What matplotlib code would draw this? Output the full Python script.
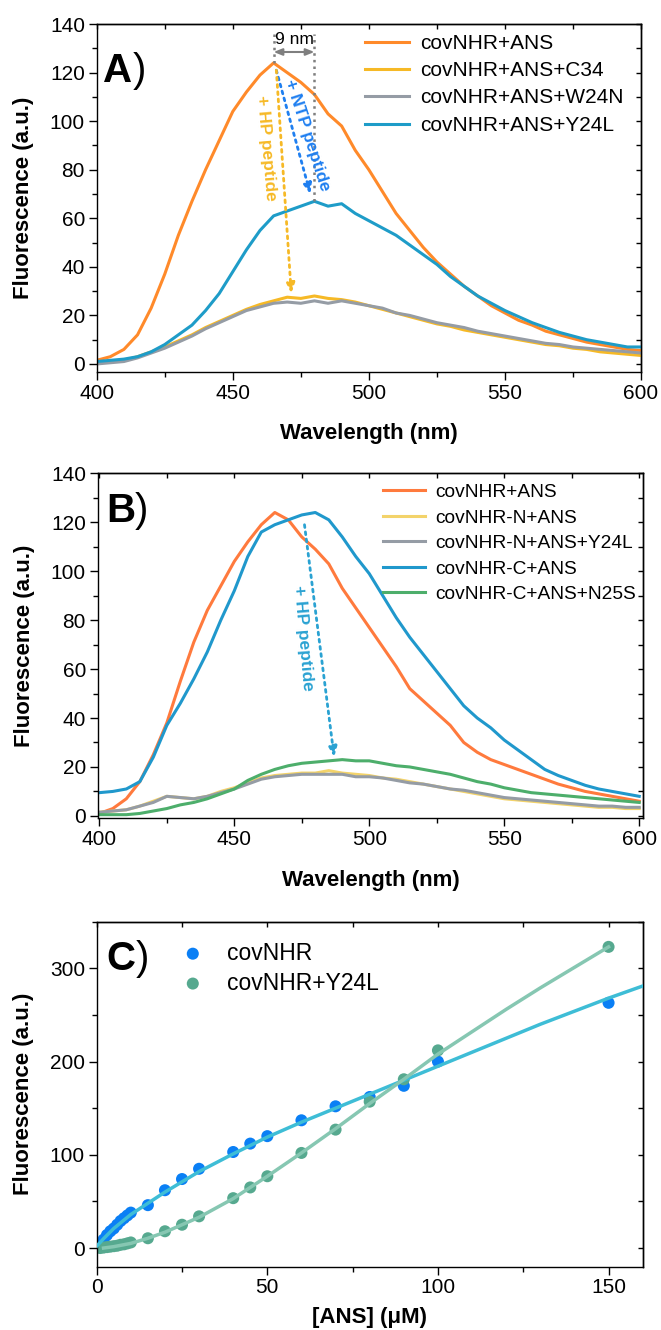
import numpy as np
import matplotlib
matplotlib.use('Agg')
import matplotlib.pyplot as plt
from matplotlib.ticker import MultipleLocator, NullFormatter

plt.rcParams['font.family'] = ['Liberation Sans', 'DejaVu Sans']

wavelength = np.arange(400, 605, 5)

# A) covNHR spectra with the peptides
a_ans = [1.5, 3, 6, 12, 23, 37, 53, 67, 80, 92, 104, 112, 119, 124, 120, 116, 111, 103, 98, 88,
         80, 71, 62, 55, 48, 42, 37, 32, 28, 24, 21, 18, 16, 13.5, 12, 10.5, 9, 8, 7, 6, 5.5]
a_c34 = [0.5, 1, 1.5, 3, 5, 7, 9.5, 12, 15, 17.5, 20, 22.5, 24.5, 26, 27.5, 27, 28, 27, 26.5, 25.5,
         24, 22.5, 21, 19.5, 18, 16.5, 15.5, 14, 13, 12, 11, 10, 9, 8, 7.5, 6.5, 6, 5, 4.5, 4, 3.5]
a_w24n = [0, 0.5, 1, 2.5, 4.5, 6.5, 9, 11.5, 14.5, 17, 19.5, 22, 23.5, 25, 25.5, 25, 26, 25, 26, 25,
          24, 23, 21, 20, 18.5, 17, 16, 15, 13.5, 12.5, 11.5, 10.5, 9.5, 8.5, 8, 7, 6.5, 6, 5.5, 5, 4.5]
a_y24l = [1, 1.5, 2, 3, 5, 8, 12, 16, 22, 29, 38, 47, 55, 61, 63, 65, 67, 65, 66, 62,
          59, 56, 53, 49, 45, 41, 36, 32, 28, 25, 22, 19.5, 17, 15, 13, 11.5, 10, 9, 8, 7, 7]

# B) N- and C-terminal constructs
b_ans = [1, 3, 7, 14, 25, 38, 55, 71, 84, 94, 104, 112, 119, 124, 121, 114, 109, 103, 93, 85,
         77, 69, 61, 52, 47, 42, 37, 30, 26, 23, 21, 19, 17, 15, 13, 11.5, 10, 9, 8, 7, 6]
b_n_ans = [1.5, 2, 2.5, 4, 6, 8, 7.5, 7, 8, 10, 11.5, 13.5, 15.5, 16.5, 17, 17.5, 17.5, 18.5, 17.5, 17,
           16.5, 15.5, 15, 14, 13, 12, 11, 10, 9, 8, 7, 6.5, 6, 5.5, 5, 4.5, 4, 3.5, 3.5, 3, 3]
b_n_y24l = [1.5, 2, 2.5, 4, 5.5, 8, 7.5, 7, 8, 9.5, 11, 13, 15, 16, 16.5, 17, 17, 17, 17, 16,
            16, 15.5, 14.5, 13.5, 13, 12, 11, 10.5, 9.5, 8.5, 7.5, 7, 6.5, 6, 5.5, 5, 4.5, 4, 4, 3.5, 3.5]
b_c_ans = [9.5, 10, 11, 14, 24, 37, 46, 56, 67, 80, 92, 106, 116, 119, 121, 123, 124, 121, 114, 106,
           99, 90, 81, 73, 66, 59, 52, 45, 40, 36, 31, 27, 23, 19, 16.5, 14.5, 12.5, 11, 10, 9, 8]
b_c_n25s = [0.5, 0.5, 0.5, 1, 2, 3, 4.5, 5.5, 7, 9, 11, 14.5, 17, 19, 20.5, 21.5, 22, 22.5, 23, 22.5,
            22.5, 21.5, 20.5, 20, 19, 18, 17, 15.5, 14, 13, 11.5, 10.5, 9.5, 9, 8.5, 8, 7.5, 7, 6.5, 6, 5.5]

# C) ANS titration
ans_conc = [1, 2, 3, 4, 5, 6, 7, 8, 9, 10, 15, 20, 25, 30, 40, 45, 50, 60, 70, 80, 90, 100, 150]
fl_covnhr = [4, 9, 14, 18, 21, 25, 29, 32, 35, 38, 46, 62, 74, 85, 103, 112, 120, 137, 152, 162, 174, 200, 263]
fl_y24l = [0, 0.5, 1, 1.5, 2, 2.5, 3.5, 4, 5, 6, 10.5, 18, 25, 34, 53.5, 65, 77, 102, 127, 157, 181, 212, 323]

fit_covnhr_x = [0, 2, 5, 10, 15, 20, 25, 30, 40, 50, 60, 70, 80, 90, 100, 110, 120, 130, 140, 150, 160]
fit_covnhr_y = [2, 10, 21, 36, 48, 60, 71, 82, 101, 119, 135, 150, 165, 180, 195, 210, 225, 240, 254, 268, 281]
fit_y24l_x = [2, 5, 10, 15, 20, 25, 30, 40, 50, 60, 70, 80, 90, 100, 110, 120, 130, 140, 150]
fit_y24l_y = [0, 1.5, 5, 10.5, 17, 25, 33, 53, 77, 102, 128, 155, 181, 208, 232, 256, 279, 301, 323]


def style_axes(ax, xmaj, xmin, ymaj, ymin):
    ax.xaxis.set_major_locator(MultipleLocator(xmaj))
    ax.xaxis.set_minor_locator(MultipleLocator(xmin))
    ax.yaxis.set_major_locator(MultipleLocator(ymaj))
    ax.yaxis.set_minor_locator(MultipleLocator(ymin))
    ax.tick_params(which='major', direction='out', length=6, width=1, labelsize=15, pad=2.5)
    ax.tick_params(which='minor', direction='out', length=3.5, width=1)
    for s in ax.spines.values():
        s.set_linewidth(1)
    # inward ticks on the opposite sides
    top = ax.secondary_xaxis('top')
    top.xaxis.set_major_locator(MultipleLocator(xmin))
    top.xaxis.set_major_formatter(NullFormatter())
    top.tick_params(direction='in', length=3.5, width=1)
    top.spines['top'].set_linewidth(1)
    right = ax.secondary_yaxis('right')
    right.yaxis.set_major_locator(MultipleLocator(ymin))
    right.yaxis.set_major_formatter(NullFormatter())
    right.tick_params(direction='in', length=3.5, width=1)
    right.spines['right'].set_linewidth(1)


def panel_letter(ax, letter, x, y):
    t = ax.text(x, y, letter, transform=ax.transAxes, fontsize=29, fontweight='bold', va='baseline')
    ax.annotate(')', xy=(1, 0), xycoords=t, fontsize=29, va='bottom', ha='left')


def dotted_arrow(ax, start, end, color):
    ax.annotate('', xy=end, xytext=start,
                arrowprops=dict(arrowstyle='-|>,head_length=0.6,head_width=0.25', color=color, lw=2,
                                linestyle=(0, (1, 1.6)), shrinkA=0, shrinkB=0))


fig = plt.figure(figsize=(6.61, 13.3), dpi=100)

# ---- A ----
ax1 = fig.add_axes([0.1463, 0.7205, 0.8235, 0.2614])
ax1.plot(wavelength, a_ans, color='#FF8A2A', lw=2.2, label='covNHR+ANS')
ax1.plot(wavelength, a_c34, color='#F6B926', lw=2.2, label='covNHR+ANS+C34')
ax1.plot(wavelength, a_w24n, color='#959CA5', lw=2.2, label='covNHR+ANS+W24N')
ax1.plot(wavelength, a_y24l, color='#1E9CC8', lw=2.2, label='covNHR+ANS+Y24L')
ax1.set_xlim(400, 600)
ax1.set_ylim(-3.2, 140)
style_axes(ax1, 50, 25, 20, 10)
ax1.set_xlabel('Wavelength (nm)', fontsize=16, fontweight='bold')
ax1.set_ylabel('Fluorescence (a.u.)', fontsize=16, fontweight='bold')
ax1.xaxis.set_label_coords(0.5, -0.148)
ax1.yaxis.set_label_coords(-0.115, 0.5)
ax1.legend(loc='upper left', bbox_to_anchor=(0.493, 0.972), frameon=False, fontsize=15,
           handlelength=2.1, handletextpad=0.55, labelspacing=0.4, borderpad=0, borderaxespad=0)
panel_letter(ax1, 'A', 0.012, 0.833)

# peak shift marker
peak_ans = wavelength[int(np.argmax(a_ans))]
peak_y24l = wavelength[int(np.argmax(a_y24l))]
ax1.plot([peak_ans, peak_ans], [max(a_ans), 136], ls=':', color='#7F7F7F', lw=1.8)
ax1.plot([peak_y24l, peak_y24l], [max(a_y24l), 136], ls=':', color='#7F7F7F', lw=1.8)
ax1.annotate('', xy=(peak_y24l, 128.5), xytext=(peak_ans, 128.5),
             arrowprops=dict(arrowstyle='<|-|>,head_length=0.5,head_width=0.2', color='#7F7F7F', lw=1.5,
                             shrinkA=0, shrinkB=0))
ax1.text((peak_ans + peak_y24l) / 2, 133.8, '9 nm', fontsize=12.5, ha='center', va='center')

dotted_arrow(ax1, (466, 121), (478.5, 70), '#1F7FF0')
ax1.text(477.5, 94.3, '+ NTP peptide', color='#1F7FF0', fontsize=12.5, fontweight='bold', rotation=-72,
         ha='center', va='center', rotation_mode='anchor')
dotted_arrow(ax1, (466, 121), (471.5, 29), '#F6B926')
ax1.text(462.3, 88.9, '+ HP peptide', color='#F6B926', fontsize=12.5, fontweight='bold', rotation=-85,
         ha='center', va='center', rotation_mode='anchor')

# ---- B ----
ax2 = fig.add_axes([0.1478, 0.3847, 0.8254, 0.2594])
ax2.plot(wavelength, b_ans, color='#FF7A3D', lw=2.2, label='covNHR+ANS')
ax2.plot(wavelength, b_n_ans, color='#F3D36A', lw=2.2, label='covNHR-N+ANS')
ax2.plot(wavelength, b_n_y24l, color='#959CA5', lw=2.2, label='covNHR-N+ANS+Y24L')
ax2.plot(wavelength, b_c_ans, color='#2098CC', lw=2.2, label='covNHR-C+ANS')
ax2.plot(wavelength, b_c_n25s, color='#4DAE6B', lw=2.2, label='covNHR-C+ANS+N25S')
ax2.set_xlim(399.4, 601.5)
ax2.set_ylim(-1, 140)
style_axes(ax2, 50, 25, 20, 10)
ax2.set_xlabel('Wavelength (nm)', fontsize=16, fontweight='bold')
ax2.set_ylabel('Fluorescence (a.u.)', fontsize=16, fontweight='bold')
ax2.xaxis.set_label_coords(0.5, -0.15)
ax2.yaxis.set_label_coords(-0.115, 0.5)
ax2.legend(loc='upper left', bbox_to_anchor=(0.523, 0.97), frameon=False, fontsize=13.8,
           handlelength=2.2, handletextpad=0.55, labelspacing=0.42, borderpad=0, borderaxespad=0)
panel_letter(ax2, 'B', 0.015, 0.86)

dotted_arrow(ax2, (476, 119), (487, 24), '#2AA2D2')
ax2.text(475.3, 72.7, '+ HP peptide', color='#2AA2D2', fontsize=12.5, fontweight='bold', rotation=-85,
         ha='center', va='center', rotation_mode='anchor')

# ---- C ----
ax3 = fig.add_axes([0.1463, 0.0476, 0.826, 0.2594])
ax3.scatter(ans_conc, fl_covnhr, s=75, color='#0A7FF5', edgecolor='none', zorder=2, label='covNHR')
ax3.scatter(ans_conc, fl_y24l, s=75, color='#56A98F', edgecolor='none', zorder=2, label='covNHR+Y24L')
ax3.plot(fit_covnhr_x, fit_covnhr_y, color='#3EBDD6', lw=2.5, zorder=3)
ax3.plot(fit_y24l_x, fit_y24l_y, color='#86C7B2', lw=2.5, zorder=3)
ax3.set_xlim(0, 160)
ax3.set_ylim(-20, 350)
style_axes(ax3, 50, 25, 100, 50)
ax3.set_xlabel('[ANS] (μM)', fontsize=16, fontweight='bold')
ax3.set_ylabel('Fluorescence (a.u.)', fontsize=16, fontweight='bold')
ax3.xaxis.set_label_coords(0.5, -0.116)
ax3.yaxis.set_label_coords(-0.115, 0.5)
ax3.legend(loc='upper left', bbox_to_anchor=(0.155, 0.942), frameon=False, fontsize=16.5,
           handlelength=1.0, handletextpad=1.0, labelspacing=0.3, borderpad=0, borderaxespad=0,
           scatterpoints=1)
panel_letter(ax3, 'C', 0.018, 0.86)

fig.savefig('out.png', dpi=100)
